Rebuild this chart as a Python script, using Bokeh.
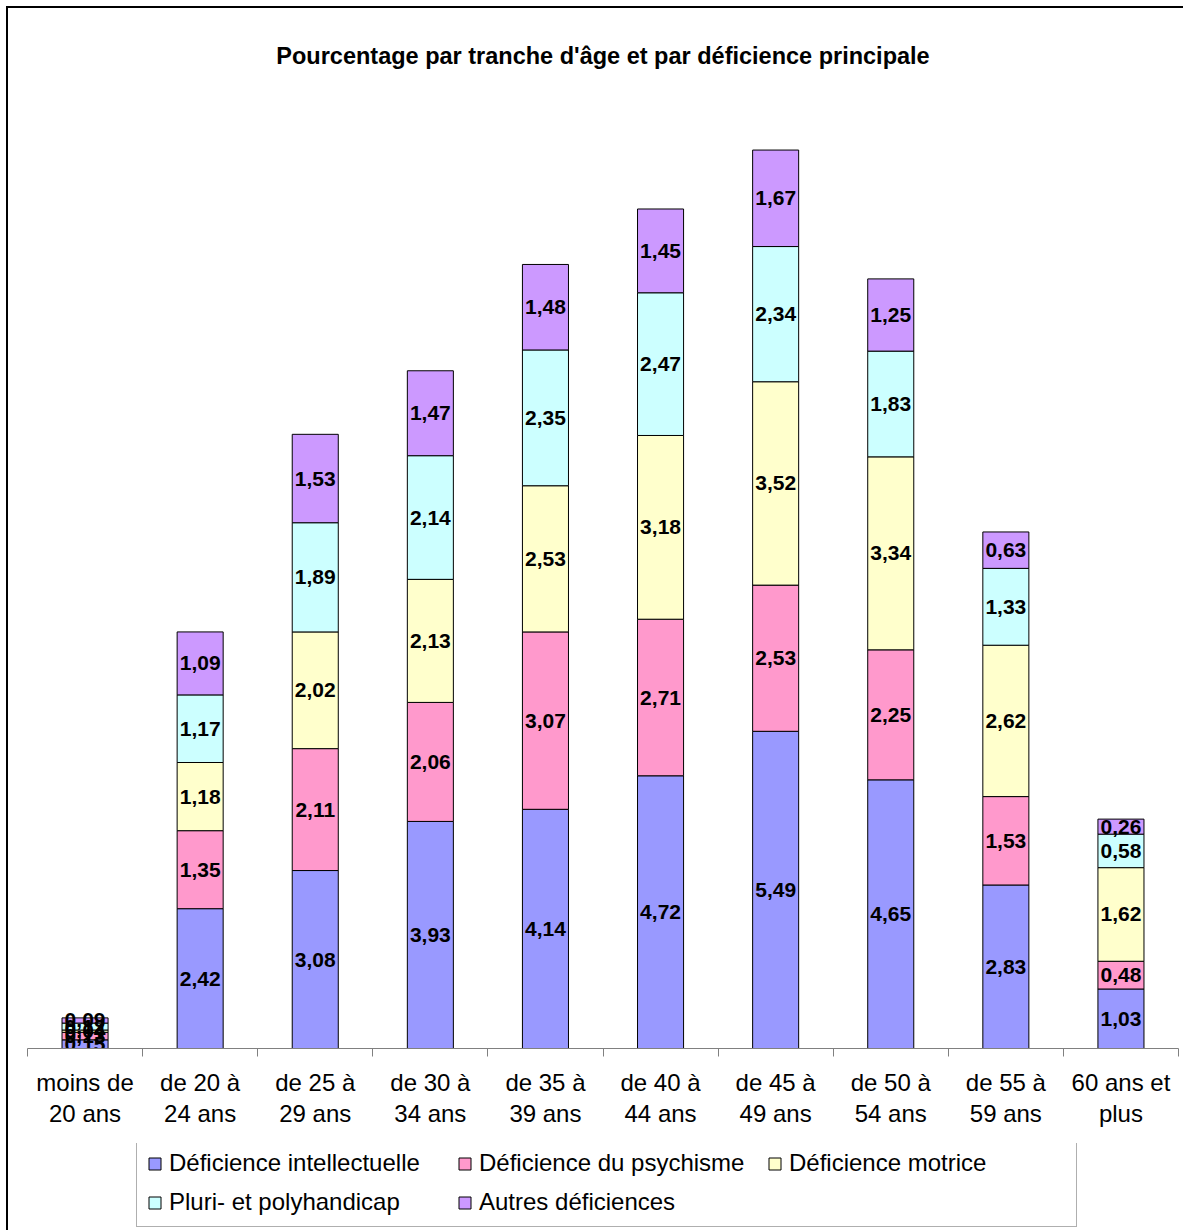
import numpy as np
from bokeh.plotting import figure
from bokeh.layouts import column
from bokeh.models import (ColumnDataSource, Range1d, LinearAxis, FixedTicker,
                          Legend, LegendItem, Label)
from bokeh.core.properties import value
from bokeh.embed import file_html
from bokeh.resources import INLINE

categories = ["moins de\n20 ans", "de 20 à\n24 ans", "de 25 à\n29 ans", "de 30 à\n34 ans",
              "de 35 à\n39 ans", "de 40 à\n44 ans", "de 45 à\n49 ans", "de 50 à\n54 ans",
              "de 55 à\n59 ans", "60 ans et\nplus"]
intellectuelle = [0.15, 2.42, 3.08, 3.93, 4.14, 4.72, 5.49, 4.65, 2.83, 1.03]
psychisme = [0.13, 1.35, 2.11, 2.06, 3.07, 2.71, 2.53, 2.25, 1.53, 0.48]
motrice = [0.04, 1.18, 2.02, 2.13, 2.53, 3.18, 3.52, 3.34, 2.62, 1.62]
pluri = [0.12, 1.17, 1.89, 2.14, 2.35, 2.47, 2.34, 1.83, 1.33, 0.58]
autres = [0.09, 1.09, 1.53, 1.47, 1.48, 1.45, 1.67, 1.25, 0.63, 0.26]
series_names = ["Déficience intellectuelle", "Déficience du psychisme", "Déficience motrice",
                "Pluri- et polyhandicap", "Autres déficiences"]
colors = ["#9999FF", "#FF99CC", "#FFFFCC", "#CCFFFF", "#CC99FF"]
title_text = "Pourcentage par tranche d'âge et par déficience principale"

series = [intellectuelle, psychisme, motrice, pluri, autres]
keys = ["s0", "s1", "s2", "s3", "s4"]
n = len(categories)
xpos = np.arange(n) + 0.5

data = {"x": xpos}
for k, s in zip(keys, series):
    data[k] = s
src = ColumnDataSource(data)

FONT = "Liberation Sans"

p = figure(width=1175, height=1135, output_backend="svg", toolbar_location=None,
           x_range=Range1d(0, n), y_range=Range1d(0, 18),
           x_axis_location=None, y_axis_location=None,
           min_border_left=19, min_border_right=5, min_border_top=0, min_border_bottom=95)
p.grid.visible = False
p.outline_line_color = None
p.background_fill_color = "white"
p.border_fill_color = "white"

renderers = p.vbar_stack(keys, x="x", width=0.4, source=src, color=colors,
                         line_color="black", line_width=1)

# segment labels
bottoms = np.zeros(n)
lx, ly, lt = [], [], []
for s in series:
    arr = np.array(s)
    centers = bottoms + arr / 2
    for i in range(n):
        lx.append(xpos[i])
        ly.append(centers[i])
        lt.append(f"{arr[i]:.2f}".replace(".", ","))
    bottoms = bottoms + arr
lsrc = ColumnDataSource(dict(x=lx, y=ly, t=lt))
p.text(x="x", y="y", text="t", source=lsrc, text_align="center", text_baseline="middle",
       text_font=value(FONT), text_font_style="bold", text_font_size="21px", text_color="black")

# title
p.add_layout(Label(x=n / 2, y=993, x_units="data", y_units="screen",
                   text=title_text, text_align="center", text_baseline="middle",
                   text_font=FONT, text_font_style="bold", text_font_size="23.5px",
                   text_color="black"))

# boundary tick axis
tick_axis = LinearAxis(ticker=FixedTicker(ticks=list(range(n + 1))),
                       major_tick_out=8, major_tick_in=0,
                       major_tick_line_color="#808080", axis_line_color="#808080",
                       minor_tick_line_color=None,
                       major_label_text_font_size="1px", major_label_standoff=0,
                       major_label_text_color=None)
p.add_layout(tick_axis, "below")

label_axis = LinearAxis(ticker=FixedTicker(ticks=list(xpos)),
                        major_label_overrides={float(x): c for x, c in zip(xpos, categories)},
                        major_tick_line_color=None, minor_tick_line_color=None,
                        axis_line_color=None, major_label_standoff=6,
                        major_label_text_font=FONT, major_label_text_font_size="24px",
                        major_label_text_color="black", major_label_text_line_height=1.15)
p.add_layout(label_axis, "below")

# legend panel (separate figure so the legend is not clipped); its bars are out of view
pl = figure(width=1175, height=87, output_backend="svg", toolbar_location=None,
            x_range=Range1d(100, 101), y_range=Range1d(100, 101),
            x_axis_location=None, y_axis_location=None,
            min_border_left=0, min_border_right=0, min_border_top=0, min_border_bottom=0)
pl.grid.visible = False
pl.outline_line_color = None
pl.border_fill_color = "white"
leg_renderers = pl.vbar_stack(keys, x="x", width=0.4, source=src, color=colors,
                              line_color="black", line_width=1)
items = [LegendItem(label=nm, renderers=[r]) for nm, r in zip(series_names, leg_renderers)]
legend = Legend(items=items, location=(109, 3), orientation="horizontal", ncols=3,
                label_text_font=FONT, label_text_font_size="24px", label_text_color="black",
                label_height=24, label_width=277,
                glyph_width=15, glyph_height=15, spacing=11, padding=10, margin=0,
                label_standoff=7, border_line_color="#606060", border_line_width=1,
                background_fill_color="white", background_fill_alpha=1.0)
pl.add_layout(legend, "center")

lay = column(p, pl, spacing=0,
             styles={"margin-left": "8px", "margin-top": "8px", "outline": "2px solid black"})

open("out.html", "w").write(file_html(lay, INLINE))
